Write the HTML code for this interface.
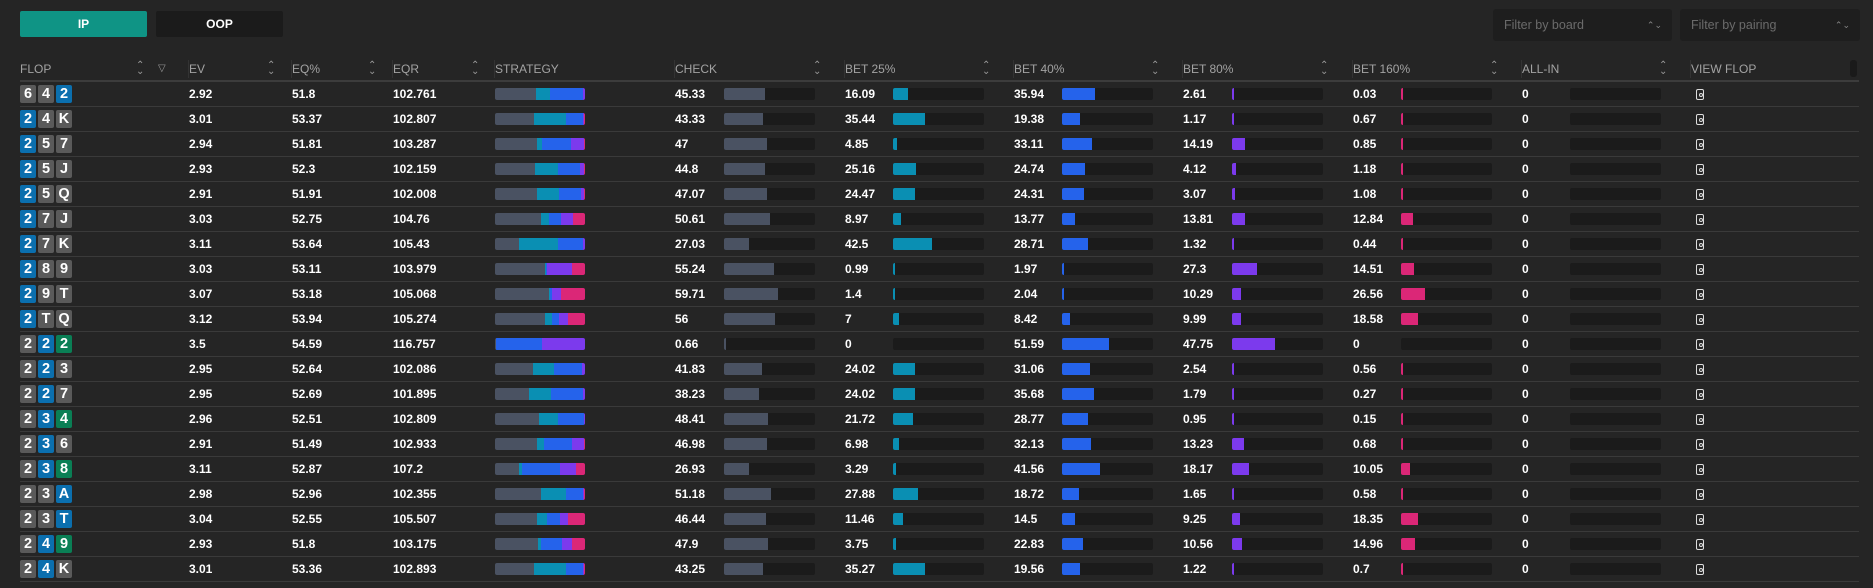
<!DOCTYPE html>
<html><head><meta charset="utf-8">
<style>
html,body{margin:0;padding:0;background:#252525;width:1873px;height:588px;overflow:hidden;font-family:"Liberation Sans",sans-serif;}
#root{position:relative;width:1873px;height:588px;}
.btn{position:absolute;top:11px;height:26px;line-height:26px;text-align:center;font-size:12px;font-weight:bold;color:#fff;border-radius:2px;}
.sel{position:absolute;top:9px;height:32px;line-height:32px;background:#1e1e1e;border-radius:3px;color:#6b6b6b;font-size:12.5px;padding-left:11px;box-sizing:border-box;}
.sel .car{position:absolute;right:10px;top:0;color:#888;font-size:9px;}
.hd{position:absolute;top:61px;font-size:12px;color:#a3a3a3;line-height:16px;}
.sort{position:absolute;top:61px;font-size:10px;color:#999;line-height:16px;}
.hline{position:absolute;left:20px;width:1839px;top:80px;height:2px;background:#3c3c3c;}
.rline{position:absolute;left:20px;width:1839px;height:1px;background:#3a3a3a;}
.cell{position:absolute;font-size:12px;font-weight:bold;color:#fff;line-height:14px;}
.card{position:absolute;width:16px;height:18px;border-radius:2px;color:#fff;font-weight:bold;font-size:14.5px;text-align:center;line-height:18px;}
.track{position:absolute;width:91px;height:12px;background:#1b1b1b;border-radius:2px;overflow:hidden;}
.fill{position:absolute;left:0;top:0;height:12px;}
.strat{position:absolute;width:90px;height:12px;border-radius:2px;overflow:hidden;background:#1b1b1b;}
.seg{position:absolute;top:0;height:12px;}
.vf{position:absolute;width:8px;height:11px;border:1.5px solid #ddd;border-radius:2px;box-sizing:border-box;}
.vf::after{content:"";position:absolute;left:1.5px;top:2.5px;width:2px;height:2px;border:1px solid #ddd;border-radius:50%;}
</style></head>
<body><div id="root">
<div class="btn" style="left:20px;width:127px;background:#0f9485">IP</div>
<div class="btn" style="left:156px;width:127px;background:#1b1b1b">OOP</div>
<div class="sel" style="left:1493px;width:179px">Filter by board<span class="car">⌃⌄</span></div>
<div class="sel" style="left:1680px;width:180px">Filter by pairing<span class="car">⌃⌄</span></div>
<div style="position:absolute;left:1850px;top:60px;width:7px;height:17px;background:#1a1a1a;border-radius:3px"></div>
<div class="hline"></div>
</div>
<script>
const flops=["642","24K","257","25J","25Q","27J","27K","289","29T","2TQ","222","223","227","234","236","238","23A","23T","249","24K"];
const suits=["ggb","bgg","bgg","bgg","bgg","bgg","bgg","bgg","bgg","bgg","gbn","gbg","gbg","gbn","gbg","gbn","ggb","ggb","gbn","gbg"];
const ev=["2.92","3.01","2.94","2.93","2.91","3.03","3.11","3.03","3.07","3.12","3.5","2.95","2.95","2.96","2.91","3.11","2.98","3.04","2.93","3.01"];
const eq=["51.8","53.37","51.81","52.3","51.91","52.75","53.64","53.11","53.18","53.94","54.59","52.64","52.69","52.51","51.49","52.87","52.96","52.55","51.8","53.36"];
const eqr=["102.761","102.807","103.287","102.159","102.008","104.76","105.43","103.979","105.068","105.274","116.757","102.086","101.895","102.809","102.933","107.2","102.355","105.507","103.175","102.893"];
const check=[45.33,43.33,47,44.8,47.07,50.61,27.03,55.24,59.71,56,0.66,41.83,38.23,48.41,46.98,26.93,51.18,46.44,47.9,43.25];
const bet25=[16.09,35.44,4.85,25.16,24.47,8.97,42.5,0.99,1.4,7,0,24.02,24.02,21.72,6.98,3.29,27.88,11.46,3.75,35.27];
const bet40=[35.94,19.38,33.11,24.74,24.31,13.77,28.71,1.97,2.04,8.42,51.59,31.06,35.68,28.77,32.13,41.56,18.72,14.5,22.83,19.56];
const bet80=[2.61,1.17,14.19,4.12,3.07,13.81,1.32,27.3,10.29,9.99,47.75,2.54,1.79,0.95,13.23,18.17,1.65,9.25,10.56,1.22];
const bet160=[0.03,0.67,0.85,1.18,1.08,12.84,0.44,14.51,26.56,18.58,0,0.56,0.27,0.15,0.68,10.05,0.58,18.35,14.96,0.7];
const allin=[0,0,0,0,0,0,0,0,0,0,0,0,0,0,0,0,0,0,0,0];
const headers=["FLOP","EV","EQ%","EQR","STRATEGY","CHECK","BET 25%","BET 40%","BET 80%","BET 160%","ALL-IN","VIEW FLOP"];
const root=document.getElementById('root');
const hx=[20,189,292,393,495,675,845,1014,1183,1353,1522,1691];
const sortx=[136,267,368,471,null,813,982,1151,1320,1490,1659,null];
const colors=["#4a5262","#0a8fb3","#2563eb","#7c3aed","#db2777","#e11d48"];
const suitCol={g:"#5a5a5a",b:"#0b6fae",n:"#0a7f55"};
function mk(cls,x,y,txt){const d=document.createElement('div');d.className=cls;d.style.left=x+'px';d.style.top=y+'px';if(txt!==undefined)d.textContent=txt;root.appendChild(d);return d;}
headers.forEach((h,i)=>{
  const d=mk('hd',hx[i],61,h);
  
  
  if(i>0){const s=mk('',hx[i]-1,60);s.style.position='absolute';s.style.width='1px';s.style.height='18px';s.style.background='#333';}
  if(sortx[i]!==null){const s=mk('sort',sortx[i],61,'⌃');s.innerHTML='<div style="line-height:6px;margin-top:2px">⌃<br>⌄</div>';
    
    }
});
const fi=mk('sort',158,61,'▽');


const barCols=[{arr:check,x:724,c:colors[0]},{arr:bet25,x:893,c:colors[1]},{arr:bet40,x:1062,c:colors[2]},{arr:bet80,x:1232,c:colors[3]},{arr:bet160,x:1401,c:colors[4]},{arr:allin,x:1570,c:colors[5]}];
const valx=[675,845,1014,1183,1353,1522];
flops.forEach((f,i)=>{
  const cy=94+25*i;
  const ln=mk('rline',0,cy+12);ln.style.left='20px';
  
  
  for(let k=0;k<3;k++){
    const c=mk('card',20+k*18,cy-9,f[k]);c.style.background=suitCol[suits[i][k]];
    
    
  }
  [[ev[i],189],[eq[i],292],[eqr[i],393]].forEach(([t,x])=>{const c=mk('cell',x,cy-7,t);
    
    });
  const st=mk('strat',495,cy-6);
  
  
  let acc=0;
  barCols.forEach(b=>{const v=b.arr[i];const s=document.createElement('div');s.className='seg';s.style.left=(acc/100*90)+'px';s.style.width=(v/100*90)+'px';s.style.background=b.c;st.appendChild(s);
    
    
    acc+=v;});
  barCols.forEach((b,j)=>{
    const v=b.arr[i];
    const t=mk('cell',valx[j],cy-7,String(v));
    
    
    const tr=mk('track',b.x,cy-6);
    
    
    if(v>0){const fl=document.createElement('div');fl.className='fill';fl.style.width=Math.max(1.5,v/100*91)+'px';fl.style.background=b.c;tr.appendChild(fl);
      
      }
  });
  const vf=mk('vf',1696,cy-5);
  
  
});
</script>
</body></html>
